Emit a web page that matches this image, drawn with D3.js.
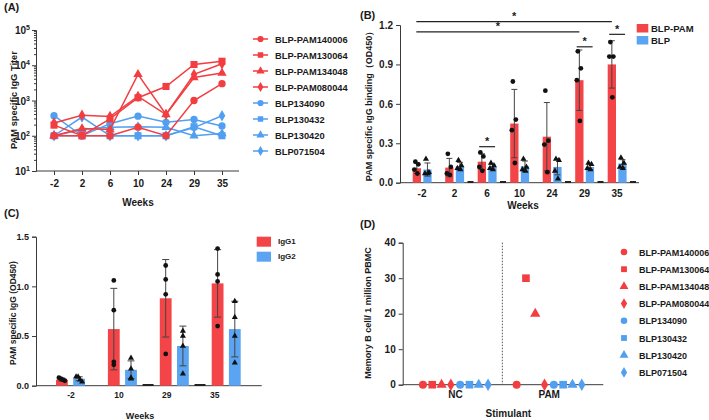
<!DOCTYPE html>
<html><head><meta charset="utf-8">
<script src="https://cdn.jsdelivr.net/npm/d3@7"></script>
<style>
body{margin:0;background:#fff}
text{font-family:"Liberation Sans",Arial,sans-serif;font-weight:bold;fill:#1a1a1a}
</style>
</head><body>
<svg id="c" width="709" height="420"></svg>
<script>
// ---------- DATA ----------
const weeksA = ["-2","2","6","10","24","29","35"];
const subjects = ["BLP-PAM140006","BLP-PAM130064","BLP-PAM134048","BLP-PAM080044","BLP134090","BLP130432","BLP130420","BLP071504"];
const subjectGroup = ["BLP-PAM","BLP-PAM","BLP-PAM","BLP-PAM","BLP","BLP","BLP","BLP"];
const subjectShape = ["circle","square","triangle","diamond","circle","square","triangle","diamond"];
const titer_PAM140006 = [100,100,100,175,100,1000,3000];
const titer_PAM130064 = [200,100,300,1200,2500,10500,13000];
const titer_PAM134048 = [100,160,150,5500,400,4500,6000];
const titer_PAM080044 = [230,380,350,1300,400,5500,11000];
const titer_BLP134090 = [370,100,220,360,240,290,190];
const titer_BLP130432 = [100,100,100,100,100,180,100];
const titer_BLP130420 = [100,150,175,180,175,100,115];
const titer_BLP071504 = [100,340,100,100,100,170,370];
const titerTicks = [10,100,1000,10000,100000];

const weeksB = ["-2","2","6","10","24","29","35"];
const groupsB = ["BLP-PAM","BLP"];
const meanPAM_B = [0.11,0.115,0.16,0.45,0.35,0.78,0.90];
const sdPAM_B   = [0.04,0.07,0.06,0.26,0.26,0.23,0.18];
const meanBLP_B = [0.10,0.125,0.12,0.125,0.12,0.12,0.145];
const sdBLP_B   = [0.05,0.03,0.02,0.04,0.06,0.02,0.03];
const ptsPAM_B = [[0.16,0.14,0.10,0.07],[0.22,0.12,0.07,0.06],[0.23,0.20,0.12,0.09],[0.77,0.48,0.40,0.15],[0.70,0.32,0.29,0.08],[1.0,0.87,0.78,0.47],[1.07,0.96,0.96,0.65]];
const ptsBLP_B = [[0.18,0.08,0.07,0.07],[0.17,0.13,0.11,0.10],[0.15,0.13,0.11,0.10],[0.18,0.12,0.10,0.09],[0.18,0.17,0.09,0.03],[0.15,0.14,0.11,0.10],[0.19,0.15,0.12,0.11]];
const zeroSlotB = [0,1,1,0,1,1,1];
const sigFromB = ["-2","-2","6","29","35"];
const sigToB   = ["35","29","6","29","35"];
const sigLevelB = [1.225,1.147,0.274,1.034,1.129];
const sigSpanB = ["long","long","short","short","short"];
const ticksB = [0,0.3,0.6,0.9,1.2];

const weeksC = ["-2","10","29","35"];
const groupsC = ["IgG1","IgG2"];
const meanIgG1 = [0.06,0.57,0.88,1.03];
const sdIgG1   = [0.015,0.41,0.39,0.34];
const meanIgG2 = [0.07,0.16,0.40,0.57];
const sdIgG2   = [0.02,0.09,0.20,0.28];
const ptsIgG1 = [[0.08,0.07,0.06,0.05],[1.06,0.76,0.24,0.21],[1.21,1.07,0.92,0.32],[1.38,1.12,1.05,0.60]];
const ptsIgG2 = [[0.09,0.09,0.06,0.04],[0.28,0.17,0.08,0.07],[0.55,0.50,0.40,0.12],[0.85,0.69,0.50,0.23]];
const zeroSlotC = [0,0,1,1];
const ticksC = [0,0.5,1.0,1.5];

const stimulants = ["NC","PAM"];
const memNC  = [0,0,0,0,0,0,0,0];
const memPAM = [0,30,20,0,0,0,0,0];
const ticksD = [0,10,20,30,40];

// ---------- STYLE ----------
const RED = "#f23d41", BLUE = "#519ff0";
const BARRED = "#f34448", BARBLUE = "#5aa4f2";
const AX = "#3a3a3a";
const svg = d3.select("#c");
const symMap = {circle:d3.symbolCircle, square:d3.symbolSquare, triangle:d3.symbolTriangle, diamond:d3.symbolDiamond};
const symSize = {circle:42, square:50, triangle:38, diamond:38};
const colorOf = g => g==="BLP-PAM" ? RED : BLUE;

function styleAxis(g){
  g.selectAll("path,line").attr("stroke",AX).attr("stroke-width",1);
  g.selectAll("text").attr("fill","#1a1a1a").style("font-weight","bold").attr("font-family","Liberation Sans, Arial, sans-serif");
}
function label(x,y,t,size,anchor,rot){
  const e = svg.append("text").attr("font-size",size).attr("text-anchor",anchor||"middle").text(t);
  if(rot) e.attr("transform",`translate(${x},${y}) rotate(${rot})`);
  else e.attr("x",x).attr("y",y);
  return e;
}

// ---------- PANEL A ----------
(function(){
  const titers = [titer_PAM140006,titer_PAM130064,titer_PAM134048,titer_PAM080044,titer_BLP134090,titer_BLP130432,titer_BLP130420,titer_BLP071504];
  const x = d3.scalePoint(weeksA,[54,222]);
  const y = d3.scaleLog([10,100000],[171,30]);
  const x0 = 36, x1 = 239;
  const minors = [];
  for(let d=10; d<100000; d*=10) for(let k=2;k<10;k++) minors.push(d*k);
  svg.append("g").selectAll("line").data(minors).join("line")
    .attr("x1",x0-2).attr("x2",x0).attr("y1",d=>y(d)).attr("y2",d=>y(d)).attr("stroke",AX);
  const ya = svg.append("g").attr("transform",`translate(${x0},0)`)
    .call(d3.axisLeft(y).tickValues(titerTicks).tickSize(4).tickFormat(""));
  styleAxis(ya);
  titerTicks.forEach(v=>{
    const t = svg.append("text").attr("x",x0-6).attr("y",y(v)+4).attr("text-anchor","end").attr("font-size",10);
    t.append("tspan").text("10");
    t.append("tspan").attr("dy",-4).attr("font-size",7).text(Math.round(Math.log10(v)));
  });
  const xa = svg.append("g").attr("transform",`translate(0,171)`).call(d3.axisBottom(x).tickSize(4).tickPadding(5));
  xa.select(".domain").remove();
  xa.selectAll("text").attr("font-size",10);
  styleAxis(xa);
  svg.append("line").attr("x1",x0).attr("x2",x1).attr("y1",171).attr("y2",171).attr("stroke",AX);
  label(138,206,"Weeks",10);
  label(17,100,"PAM specific IgG Titer",9.3,"middle",-90);
  label(4,11,"(A)",11,"start");

  const line = d3.line().x((d,i)=>x(weeksA[i])).y(d=>y(d));
  const order = [4,5,6,7,0,1,2,3];
  order.forEach(s=>{
    const c = colorOf(subjectGroup[s]);
    svg.append("path").attr("d",line(titers[s])).attr("fill","none").attr("stroke",c).attr("stroke-width",1.5);
    svg.append("g").selectAll("path").data(titers[s]).join("path")
      .attr("transform",(d,i)=>`translate(${x(weeksA[i])},${y(d)})`)
      .attr("d",d3.symbol(symMap[subjectShape[s]],symSize[subjectShape[s]])).attr("fill",c);
  });
  subjects.forEach((n,i)=>{
    const yy = 39 + i*16, c = colorOf(subjectGroup[i]);
    svg.append("line").attr("x1",253).attr("x2",268).attr("y1",yy).attr("y2",yy).attr("stroke",c).attr("stroke-width",1.5);
    svg.append("path").attr("transform",`translate(260.5,${yy})`).attr("d",d3.symbol(symMap[subjectShape[i]],30)).attr("fill",c);
    label(275,yy+3.5,n,9.3,"start");
  });
})();

// ---------- PANEL B ----------
(function(){
  const x = d3.scaleBand(weeksB,[410,637.5]);
  const y = d3.scaleLinear([0,1.2],[182.7,25]);
  const redX = w => x(w)+2.7, blueX = w => x(w)+13.3, bw = 8.3;
  const ya = svg.append("g").attr("transform","translate(400,0)")
    .call(d3.axisLeft(y).tickValues(ticksB).tickSize(4).tickFormat(d3.format(".1f")));
  ya.selectAll("text").attr("font-size",10);
  styleAxis(ya);
  svg.append("line").attr("x1",400).attr("x2",639).attr("y1",182.7).attr("y2",182.7).attr("stroke",AX);
  svg.append("g").selectAll("text").data(weeksB).join("text")
    .attr("x",d=>x(d)+12).attr("y",197).attr("text-anchor","middle").attr("font-size",10).text(d=>d);
  label(523,209,"Weeks",10);
  label(372,104,"PAM specific IgG binding（OD450）",9,"middle",-90);
  label(360,19,"(B)",11,"start");
  svg.append("g").selectAll("line").data(weeksB.filter((d,i)=>zeroSlotB[i])).join("line")
    .attr("x1",d=>x(d)+25).attr("x2",d=>x(d)+31).attr("y1",182).attr("y2",182).attr("stroke","#222").attr("stroke-width",2);
  function series(means,sds,pts,col,bx,shape){
    svg.append("g").selectAll("rect").data(means).join("rect")
      .attr("x",(d,i)=>bx(weeksB[i])).attr("width",bw)
      .attr("y",d=>y(d)).attr("height",d=>y(0)-y(d)).attr("fill",col);
    const eg = svg.append("g").attr("stroke","#444").attr("stroke-width",1);
    means.forEach((m,i)=>{
      const cx = bx(weeksB[i])+bw/2, lo=y(Math.max(0,m-sds[i])), hi=y(m+sds[i]);
      eg.append("line").attr("x1",cx).attr("x2",cx).attr("y1",lo).attr("y2",hi);
      eg.append("line").attr("x1",cx-3).attr("x2",cx+3).attr("y1",hi).attr("y2",hi);
      eg.append("line").attr("x1",cx-3).attr("x2",cx+3).attr("y1",lo).attr("y2",lo);
    });
    const jit = [-1.5,1.5,-2.5,0.5];
    pts.forEach((arr,i)=>{
      const cx = bx(weeksB[i])+bw/2;
      svg.append("g").selectAll("path").data(arr).join("path")
        .attr("transform",(d,j)=>`translate(${cx+jit[j]},${y(d)})`)
        .attr("d",d3.symbol(shape, shape===d3.symbolCircle?18:16)).attr("fill","#111");
    });
  }
  series(meanPAM_B,sdPAM_B,ptsPAM_B,BARRED,redX,d3.symbolCircle);
  series(meanBLP_B,sdBLP_B,ptsBLP_B,BARBLUE,blueX,d3.symbolTriangle);
  sigFromB.forEach((f,i)=>{
    let xa, xb;
    if(sigSpanB[i]==="long"){ xa = redX(f)+bw/2-0.5; xb = redX(sigToB[i])+bw/2; }
    else { xa = redX(f)+1.5; xb = blueX(sigToB[i])+bw-1.5; }
    const yy = y(sigLevelB[i]);
    svg.append("line").attr("x1",xa).attr("x2",xb).attr("y1",yy).attr("y2",yy).attr("stroke","#222").attr("stroke-width",1.2);
    label((xa+xb)/2,yy-1.5,"*",11);
  });
  groupsB.forEach((g,i)=>{
    const yy = 24 + i*12;
    svg.append("rect").attr("x",636.7).attr("y",yy).attr("width",11.6).attr("height",8.5).attr("fill",i?BARBLUE:BARRED);
    label(651,yy+8,g,9.5,"start");
  });
})();

// ---------- PANEL C ----------
(function(){
  const x = d3.scaleBand(weeksC,[38.8,246.4]);
  const xl = d3.scalePoint(weeksC,[71,214.7]);
  const y = d3.scaleLinear([0,1.5],[385.7,236.7]);
  const redX = w => x(w)+17.2, blueX = w => x(w)+34.4, bw = 11.8;
  const ya = svg.append("g").attr("transform","translate(36,0)")
    .call(d3.axisLeft(y).tickValues(ticksC).tickSize(4).tickFormat(d3.format(".1f")));
  ya.selectAll("text").attr("font-size",9);
  styleAxis(ya);
  svg.append("line").attr("x1",36).attr("x2",261.7).attr("y1",385.7).attr("y2",385.7).attr("stroke",AX);
  svg.append("g").selectAll("text").data(weeksC).join("text")
    .attr("x",d=>xl(d)).attr("y",397.5).attr("text-anchor","middle").attr("font-size",8.5).text(d=>d);
  label(140,419,"Weeks",9);
  label(16,313,"PAM specific IgG (OD450)",8.5,"middle",-90);
  label(4,217,"(C)",11,"start");
  svg.append("g").selectAll("line").data(weeksC.filter((d,i)=>zeroSlotC[i])).join("line")
    .attr("x1",d=>x(d)).attr("x2",d=>x(d)+11).attr("y1",385).attr("y2",385).attr("stroke","#222").attr("stroke-width",2);
  function series(means,sds,pts,col,bx,shape){
    svg.append("g").selectAll("rect").data(means).join("rect")
      .attr("x",(d,i)=>bx(weeksC[i])).attr("width",bw)
      .attr("y",d=>y(d)).attr("height",d=>y(0)-y(d)).attr("fill",col);
    const eg = svg.append("g").attr("stroke","#444").attr("stroke-width",1);
    means.forEach((m,i)=>{
      const cx = bx(weeksC[i])+bw/2, lo=y(Math.max(0,m-sds[i])), hi=y(m+sds[i]);
      eg.append("line").attr("x1",cx).attr("x2",cx).attr("y1",lo).attr("y2",hi);
      eg.append("line").attr("x1",cx-3.5).attr("x2",cx+3.5).attr("y1",hi).attr("y2",hi);
      eg.append("line").attr("x1",cx-3.5).attr("x2",cx+3.5).attr("y1",lo).attr("y2",lo);
    });
    pts.forEach((arr,i)=>{
      const cx = bx(weeksC[i])+bw/2;
      const spread = i===0 ? [-3,-1,1,3] : [0,0,0,0];
      svg.append("g").selectAll("path").data(arr).join("path")
        .attr("transform",(d,j)=>`translate(${cx+spread[j]},${y(d)})`)
        .attr("d",d3.symbol(shape, shape===d3.symbolCircle?18:16)).attr("fill","#111");
    });
  }
  series(meanIgG1,sdIgG1,ptsIgG1,BARRED,redX,d3.symbolCircle);
  series(meanIgG2,sdIgG2,ptsIgG2,BARBLUE,blueX,d3.symbolTriangle);
  groupsC.forEach((g,i)=>{
    const yy = 236.7 + i*15;
    svg.append("rect").attr("x",256.7).attr("y",yy).attr("width",14.3).attr("height",10).attr("fill",i?BARBLUE:BARRED);
    label(278,yy+7.5,g,8,"start");
  });
})();

// ---------- PANEL D ----------
(function(){
  const x = d3.scalePoint(stimulants,[455.5,549.2]);
  const y = d3.scaleLinear([0,40],[384.7,242.7]);
  const ya = svg.append("g").attr("transform","translate(402.7,0)")
    .call(d3.axisLeft(y).tickValues(ticksD).tickSize(4));
  ya.selectAll("text").attr("font-size",10);
  styleAxis(ya);
  svg.append("line").attr("x1",402.7).attr("x2",603.3).attr("y1",384.7).attr("y2",384.7).attr("stroke",AX);
  svg.append("line").attr("x1",(x("NC")+x("PAM"))/2).attr("x2",(x("NC")+x("PAM"))/2)
    .attr("y1",y(40)).attr("y2",y(0)).attr("stroke","#555").attr("stroke-dasharray","1.5,1.5");
  svg.append("g").selectAll("text").data(stimulants).join("text")
    .attr("x",d=>x(d)).attr("y",398).attr("text-anchor","middle").attr("font-size",10).text(d=>d);
  label(508.3,417,"Stimulant",10);
  label(371,313,"Memory B cell/ 1 million PBMC",9,"middle",-90);
  label(360,228,"(D)",11,"start");
  [memNC,memPAM].forEach((vals,k)=>{
    const st = stimulants[k];
    svg.append("g").selectAll("path").data(vals).join("path")
      .attr("transform",(d,i)=>`translate(${x(st)+(i-3.5)*9.3},${y(d)})`)
      .attr("d",(d,i)=>d3.symbol(symMap[subjectShape[i]],symSize[subjectShape[i]]+8)())
      .attr("fill",(d,i)=>colorOf(subjectGroup[i]));
  });
  subjects.forEach((n,i)=>{
    const yy = 252 + i*17.2;
    svg.append("path").attr("transform",`translate(624,${yy})`).attr("d",d3.symbol(symMap[subjectShape[i]],34)).attr("fill",colorOf(subjectGroup[i]));
    label(639,yy+3.5,n,9,"start");
  });
})();
</script>
</body></html>
